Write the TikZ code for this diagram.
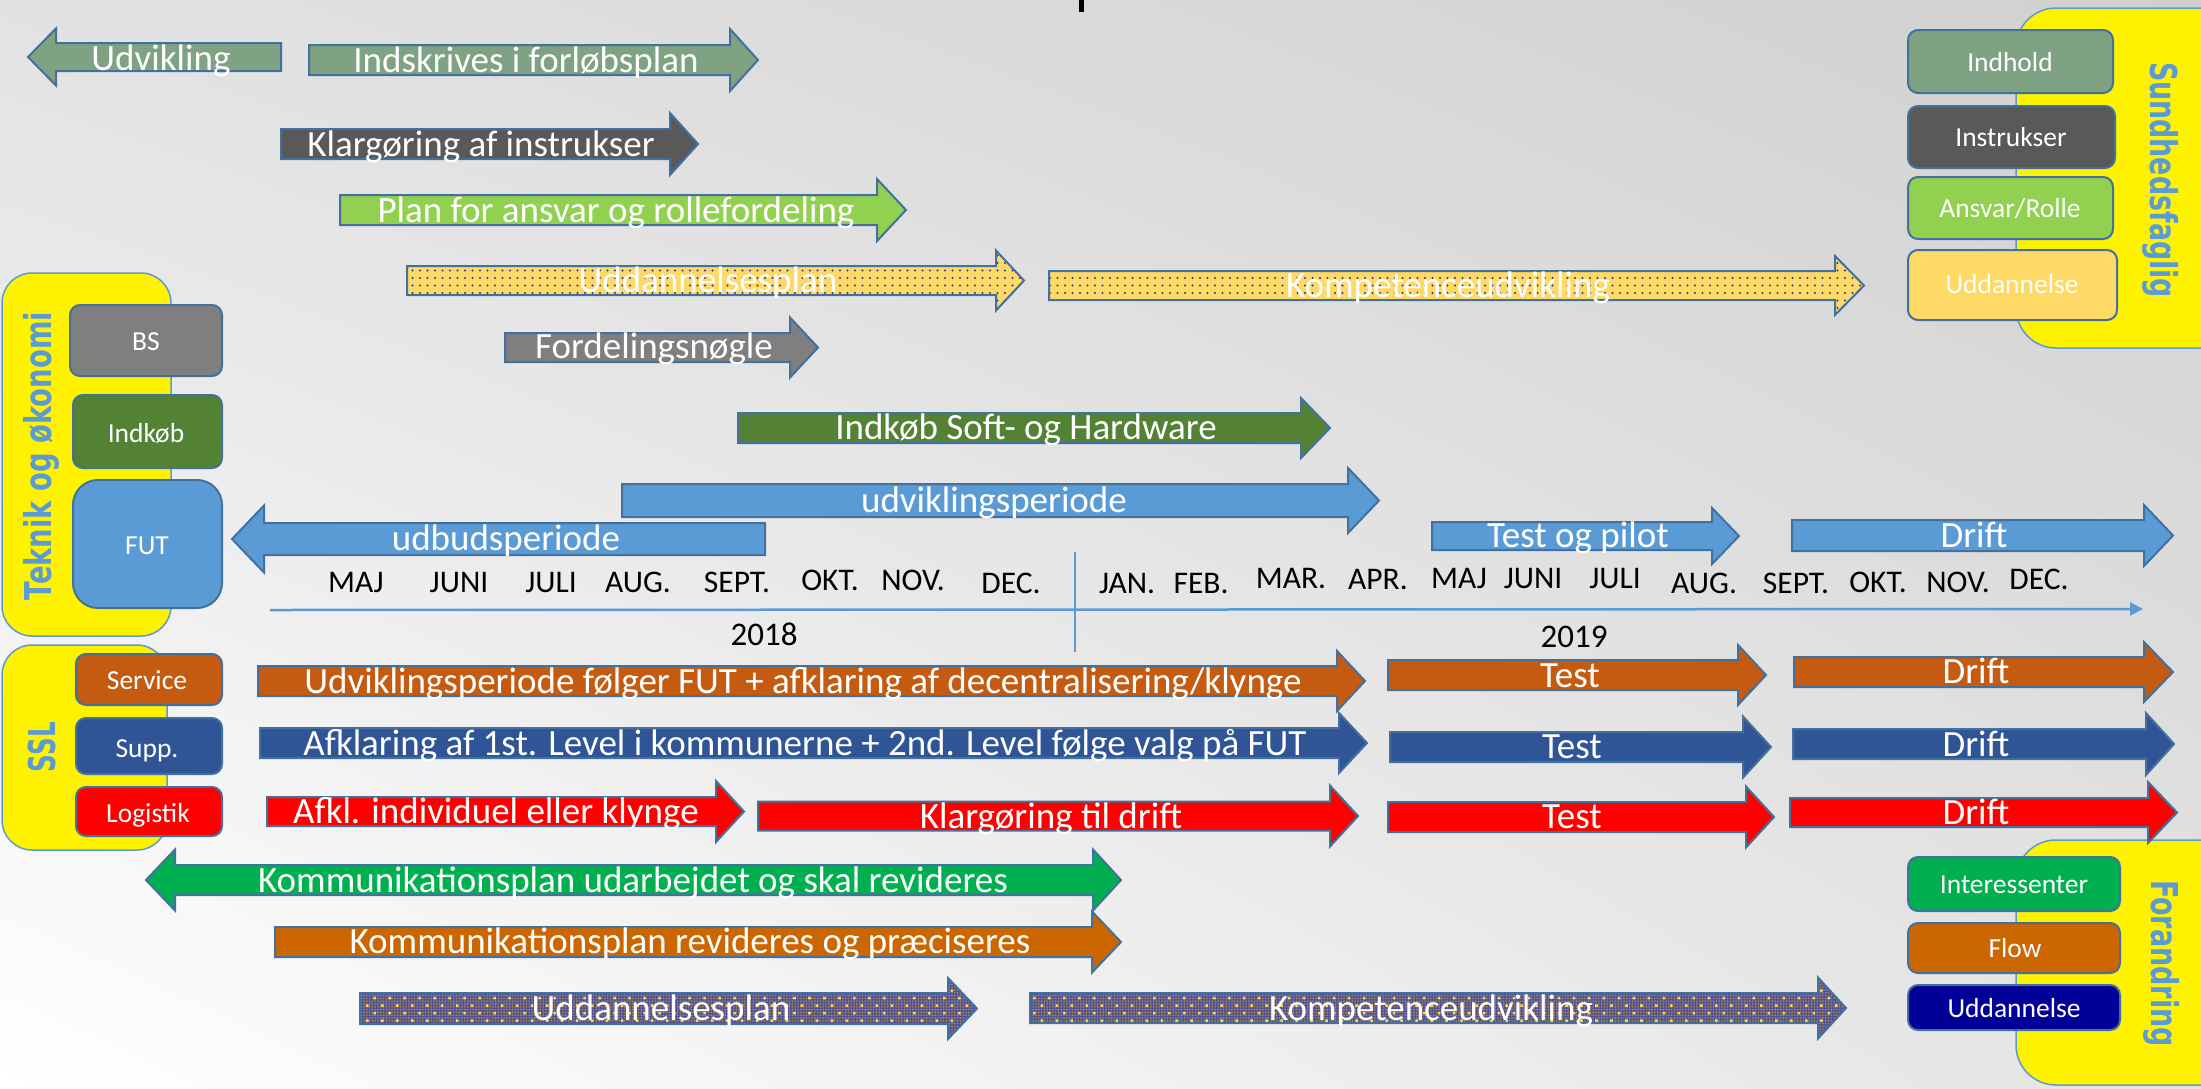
\documentclass[tikz,border=0pt]{standalone}
\usepackage{fontspec}
\setmainfont{Carlito}
\newfontfamily\panelfont{DejaVu Sans}
\usetikzlibrary{patterns.meta,arrows.meta,shadings}
\definecolor{outl}{RGB}{65,113,156}
\definecolor{sage}{RGB}{126,162,130}
\definecolor{dgray}{RGB}{89,89,89}
\definecolor{lgreen}{RGB}{146,208,80}
\definecolor{gold}{RGB}{255,217,102}
\definecolor{mgray}{RGB}{127,127,127}
\definecolor{dgreen}{RGB}{84,130,53}
\definecolor{sky}{RGB}{91,155,213}
\definecolor{rust}{RGB}{197,90,17}
\definecolor{navy}{RGB}{47,85,151}
\definecolor{kgreen}{RGB}{0,176,80}
\definecolor{orng}{RGB}{204,102,0}
\definecolor{dblue}{RGB}{0,0,153}
\definecolor{dotblue}{RGB}{40,55,150}
\definecolor{purp}{RGB}{78,82,148}
\definecolor{tan}{RGB}{172,136,92}
\definecolor{star}{RGB}{255,214,90}
\definecolor{bgul}{RGB}{226,226,226}
\definecolor{bgur}{RGB}{208,208,208}
\definecolor{bgll}{RGB}{255,255,255}
\definecolor{bglr}{RGB}{228,228,228}
% right arrow: style, body left, head base, tip, mid y, half body, half head
\newcommand{\myRA}[7]{\path[#1] (#2,#5-#6) -- (#3,#5-#6) -- (#3,#5-#7) -- (#4,#5) -- (#3,#5+#7) -- (#3,#5+#6) -- (#2,#5+#6) -- cycle;}
% left arrow: style, tip, head base, body right, mid y, half body, half head
\newcommand{\myLA}[7]{\path[#1] (#2,#5) -- (#3,#5-#7) -- (#3,#5-#6) -- (#4,#5-#6) -- (#4,#5+#6) -- (#3,#5+#6) -- (#3,#5+#7) -- cycle;}
% double arrow: style, left tip, left base, right base, right tip, mid y, half body, half head
\newcommand{\myDA}[8]{\path[#1] (#2,#6) -- (#3,#6-#8) -- (#3,#6-#7) -- (#4,#6-#7) -- (#4,#6-#8) -- (#5,#6) -- (#4,#6+#8) -- (#4,#6+#7) -- (#3,#6+#7) -- (#3,#6+#8) -- cycle;}
\begin{document}
\begin{tikzpicture}[x=1pt,y=-1pt,
  arr/.style={draw=outl,line width=2pt,line join=miter},
  golddots/.style={preaction={fill=gold},pattern={Dots[distance=7.5pt,radius=1.1pt]},pattern color=dotblue},
  purpdots/.style={preaction={fill=purp},preaction={pattern={Dots[distance=2.8pt,radius=0.95pt]},pattern color=tan},pattern={Dots[distance=10.6pt,angle=45,radius=1.8pt]},pattern color=star},
  atext/.style={text=white,font=\fontsize{37}{40}\selectfont,anchor=base,inner sep=0pt},
  btext/.style={text=white,font=\fontsize{27.5}{30}\selectfont,anchor=base,inner sep=0pt},
  mtext/.style={text=black,font=\fontsize{31.5}{34}\selectfont,anchor=base,inner sep=0pt},
  ytext/.style={text=black,font=\fontsize{33}{36}\selectfont,anchor=base,inner sep=0pt},
  bx/.style={draw=outl,line width=2pt,rounded corners=10pt},
  pnl/.style={fill=yellow,draw=sky,line width=1.5pt,rounded corners=40pt},
  ptext/.style={text=sky,font=\panelfont\bfseries\fontsize{37}{37}\selectfont,inner sep=0pt,anchor=base}]
\useasboundingbox (0,0) rectangle (2201,1088);
\clip (0,0) rectangle (2201,1088);
\shade[upper left=bgul,upper right=bgur,lower left=bgll,lower right=bglr] (0,0) rectangle (2201,1088);
\fill[black] (1079,0) rectangle (1084,12);

% panels
\draw[pnl] (2016,8) rectangle (2260,348);
\draw[pnl,rounded corners=30pt] (2,273) rectangle (171,636);
\draw[pnl,rounded corners=30pt] (2,645) rectangle (167,850);
\draw[pnl] (2016,840) rectangle (2260,1085);

% panel labels
\node[ptext,rotate=-90] (sund) at (2150,180) {\resizebox{236pt}{\height}{Sundhedsfaglig}};
\node[ptext,rotate=90] (tek) at (51,456) {\resizebox{288pt}{\height}{Teknik og økonomi}};
\node[ptext,rotate=90] (ssl) at (55,747) {\resizebox{50pt}{\height}{SSL}};
\node[ptext,rotate=-90] (forand) at (2151,963.5) {\resizebox{167pt}{\height}{Forandring}};

% boxes
\draw[bx,fill=sage] (1908,30) rectangle (2113,93);
\draw[bx,fill=dgray] (1908,106) rectangle (2115,168);
\draw[bx,fill=lgreen] (1908,177) rectangle (2113,239);
\draw[bx,fill=gold] (1908,250) rectangle (2117,320);
\draw[bx,fill=mgray] (70,305) rectangle (222,376);
\draw[bx,fill=dgreen] (73,395) rectangle (222,468);
\draw[bx,fill=sky,rounded corners=25pt] (73,480) rectangle (222,608);
\draw[bx,fill=rust] (76,654) rectangle (222,705);
\draw[bx,fill=navy] (76,718) rectangle (222,774);
\draw[bx,fill=red] (76,787) rectangle (222,836);
\draw[bx,fill=kgreen] (1908,857) rectangle (2120,911);
\draw[bx,fill=orng] (1908,923) rectangle (2120,973);
\draw[bx,fill=dblue] (1908,985) rectangle (2120,1030);

\node[btext] (bIndhold) at (2010,71) {Indhold};
\node[btext] (bInstr) at (2011,146) {Instrukser};
\node[btext] (bAnsvar) at (2010,217) {Ansvar/Rolle};
\node[btext] (bUdd1) at (2012,293) {Uddannelse};
\node[btext] (bBS) at (146,350) {BS};
\node[btext] (bIndkob) at (146,442) {Indkøb};
\node[btext] (bFUT) at (147,554) {FUT};
\node[btext] (bService) at (147,689) {Service};
\node[btext] (bSupp) at (147,757) {Supp.};
\node[btext] (bLog) at (148,822) {Logistik};
\node[btext] (bInt) at (2014,893) {Interessenter};
\node[btext] (bFlow) at (2015,957) {Flow};
\node[btext] (bUdd2) at (2014,1017) {Uddannelse};

% timeline
\coordinate (tl0) at (270,610);
\coordinate (tl1) at (2143,609);
\draw[sky,line width=2.5pt,-{Triangle[length=13pt,width=13pt]}] (tl0) -- (tl1);
\coordinate (dv0) at (1075,552);
\coordinate (dv1) at (1075,652);
\draw[sky,line width=1.5pt] (dv0) -- (dv1);

% months
\node[mtext] (m1) at (356,592) {MAJ};
\node[mtext] (m2) at (459,592) {JUNI};
\node[mtext] (m3) at (551,592) {JULI};
\node[mtext] (m4) at (638,592) {AUG.};
\node[mtext] (m5) at (737,592) {SEPT.};
\node[mtext] (m6) at (830,590) {OKT.};
\node[mtext] (m7) at (913,590) {NOV.};
\node[mtext] (m8) at (1011,593) {DEC.};
\node[mtext] (n1) at (1127,593) {JAN.};
\node[mtext] (n2) at (1201,593) {FEB.};
\node[mtext] (n3) at (1291,588) {MAR.};
\node[mtext] (n4) at (1378,589) {APR.};
\node[mtext] (n5) at (1459,588) {MAJ};
\node[mtext] (n6) at (1533,588) {JUNI};
\node[mtext] (n7) at (1615,588) {JULI};
\node[mtext] (n8) at (1704,593) {AUG.};
\node[mtext] (n9) at (1796,593) {SEPT.};
\node[mtext] (n10) at (1878,592) {OKT.};
\node[mtext] (n11) at (1958,592) {NOV.};
\node[mtext] (n12) at (2039,589) {DEC.};
\node[ytext] (y18) at (764,645) {2018};
\node[ytext] (y19) at (1574,647) {2019};

% arrows
\myLA{arr,fill=sage}{28}{56}{281}{57}{14}{28.5}
\myRA{arr,fill=sage}{309}{730}{758}{60}{15}{31}
\myRA{arr,fill=dgray}{281}{670}{698}{144}{15}{31}
\myRA{arr,fill=lgreen}{340}{877}{906}{210}{15}{31}
\myRA{arr,golddots}{407}{996}{1024}{280.5}{14.5}{30}
\myRA{arr,golddots}{1049}{1835}{1864}{285.5}{14.5}{29.5}
\myRA{arr,fill=mgray}{505}{790}{818}{347.5}{14.5}{30}
\myRA{arr,fill=dgreen}{738}{1301}{1330}{428}{15}{30}
\myRA{arr,fill=sky}{622}{1348}{1379}{500.5}{16.5}{32.5}
\myLA{arr,fill=sky}{232}{264}{765}{539}{16}{33.5}
\myRA{arr,fill=sky}{1432}{1712}{1739}{536}{14}{28}
\myRA{arr,fill=sky}{1792}{2144}{2173}{535.5}{15.5}{30.5}
\myRA{arr,fill=rust}{258}{1337}{1365}{681}{15}{30}
\myRA{arr,fill=rust}{1388}{1738}{1766}{675}{15}{30}
\myRA{arr,fill=rust}{1794}{2144}{2173}{672}{15}{30}
\myRA{arr,fill=navy}{260}{1339}{1367}{743}{15}{30}
\myRA{arr,fill=navy}{1390}{1743}{1771}{747}{15}{30.5}
\myRA{arr,fill=navy}{1793}{2146}{2174}{744}{15}{31}
\myRA{arr,fill=red}{267}{716}{744}{811.5}{14.5}{30.5}
\myRA{arr,fill=red}{758}{1330}{1358}{816}{14.5}{30.5}
\myRA{arr,fill=red}{1388}{1746}{1774}{817}{15}{30.5}
\myRA{arr,fill=red}{1790}{2148}{2177}{812.5}{14.5}{30.5}
\myDA{arr,fill=kgreen}{146}{175}{1093}{1121}{880}{15}{30.5}
\myRA{arr,fill=orng}{275}{1092}{1121}{942}{15}{30.5}
\myRA{arr,purpdots}{360}{948}{977}{1008.5}{15.5}{30.5}
\myRA{arr,purpdots}{1030}{1818}{1846}{1008}{15}{30.5}

% arrow labels
\node[atext] (a1) at (161,70) {Udvikling};
\node[atext] (a2) at (526,72) {Indskrives i forløbsplan};
\node[atext] (a3) at (481,156) {Klargøring af instrukser};
\node[atext] (a4) at (616,222) {Plan for ansvar og rollefordeling};
\node[atext] (a5) at (708,292) {Uddannelsesplan};
\node[atext] (a6) at (1448,297) {Kompetenceudvikling};
\node[atext] (a7) at (654,358) {Fordelingsnøgle};
\node[atext] (a8) at (1026,439) {Indkøb Soft- og Hardware};
\node[atext] (a9) at (994,512) {udviklingsperiode};
\node[atext] (a10) at (506,550) {udbudsperiode};
\node[atext] (a11) at (1578,547) {Test og pilot};
\node[atext] (a12) at (1974,547) {Drift};
\node[atext] (a13) at (803,693) {Udviklingsperiode følger FUT + afklaring af decentralisering/klynge};
\node[atext] (a14) at (1570,687) {Test};
\node[atext] (a15) at (1976,683) {Drift};
\node[atext] (a16) at (805,755) {Afklaring af 1st. Level i kommunerne + 2nd. Level følge valg på FUT};
\node[atext] (a17) at (1572,758) {Test};
\node[atext] (a18) at (1976,756) {Drift};
\node[atext] (a19) at (496,823) {Afkl. individuel eller klynge};
\node[atext] (a20) at (1051,828) {Klargøring til drift};
\node[atext] (a21) at (1572,828) {Test};
\node[atext] (a22) at (1976,824) {Drift};
\node[atext] (a23) at (633,892) {Kommunikationsplan udarbejdet og skal revideres};
\node[atext] (a24) at (690,953) {Kommunikationsplan revideres og præciseres};
\node[atext] (a25) at (661,1020) {Uddannelsesplan};
\node[atext] (a26) at (1431,1020) {Kompetenceudvikling};
\end{tikzpicture}
\end{document}
